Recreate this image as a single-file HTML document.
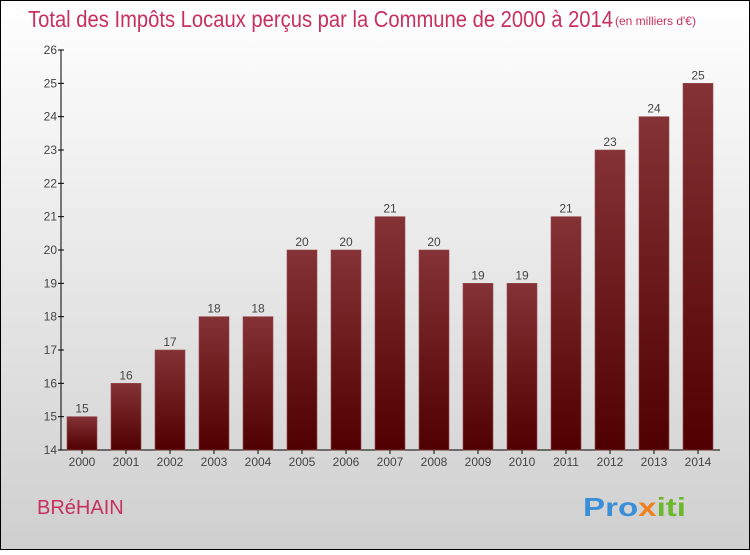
<!DOCTYPE html>
<html><head><meta charset="utf-8"><style>
body{margin:0}
svg text{font-family:"Liberation Sans",sans-serif}
</style></head><body>
<svg id="c" width="750" height="550" xmlns="http://www.w3.org/2000/svg">
<defs>
<linearGradient id="bg" x1="0" y1="0" x2="0" y2="1"><stop offset="0" stop-color="#ffffff"/><stop offset="1" stop-color="#cfcfcf"/></linearGradient>
<linearGradient id="bar" x1="0" y1="0" x2="0" y2="1"><stop offset="0" stop-color="#853236"/><stop offset="1" stop-color="#500000"/></linearGradient>
</defs>
<rect x="0.5" y="0.5" width="749" height="549" fill="url(#bg)" stroke="#000"/>
<text x="28" y="27" font-size="23" fill="#c8305f" textLength="585" lengthAdjust="spacingAndGlyphs">Total des Impôts Locaux perçus par la Commune de 2000 à 2014</text>
<text x="615" y="25" font-size="12" fill="#c8305f">(en milliers d'€)</text>
<text x="37" y="514" font-size="20" fill="#c8305f">BRéHAIN</text>
<text x="583" y="516" font-size="26" font-weight="bold" textLength="103" lengthAdjust="spacingAndGlyphs"><tspan fill="#3a8fd8">Pro</tspan><tspan fill="#f08020">x</tspan><tspan fill="#6cb82c">iti</tspan></text>
<g id="axes"></g><g id="bars"></g>
</svg>
<script>
const categories=["2000","2001","2002","2003","2004","2005","2006","2007","2008","2009","2010","2011","2012","2013","2014"];
const values=[15,16,17,18,18,20,20,21,20,19,19,21,23,24,25];
const yTicks=[14,15,16,17,18,19,20,21,22,23,24,25,26];
const NS="http://www.w3.org/2000/svg";
const y=v=>450-(v-14)*400/12;
const x=i=>82+i*44;
function mk(t,a,p,txt){const e=document.createElementNS(NS,t);for(const k in a)e.setAttribute(k,a[k]);if(txt!==undefined)e.textContent=txt;p.appendChild(e);return e;}
const ax=document.getElementById('axes'),bs=document.getElementById('bars');
let l=mk('line',{x1:61,y1:50,x2:61,y2:450,stroke:'#000'},ax);


l=mk('line',{x1:61,y1:450,x2:720,y2:450,stroke:'#000'},ax);


yTicks.forEach(v=>{
 mk('line',{x1:58,y1:y(v),x2:64,y2:y(v),stroke:'#000'},ax);
 const t=mk('text',{x:57,y:y(v)+4,'font-size':12,'text-anchor':'end',fill:'#444'},ax,v);
 
 
});
categories.forEach((c,i)=>{
 const v=values[i];
 const r=mk('rect',{x:x(i)-15,y:y(v),width:30,height:450-y(v),fill:'url(#bar)',stroke:'#9a4a4e','stroke-width':0.6},bs);
 
 
 const vt=mk('text',{x:x(i),y:y(v)-4,'font-size':12,'text-anchor':'middle',fill:'#444'},bs,v);
 
 
 mk('line',{x1:x(i),y1:450,x2:x(i),y2:454,stroke:'#000'},ax);
 const xt=mk('text',{x:x(i),y:466,'font-size':12,'text-anchor':'middle',fill:'#444'},ax,c);
 
 
});
</script>
</body></html>
